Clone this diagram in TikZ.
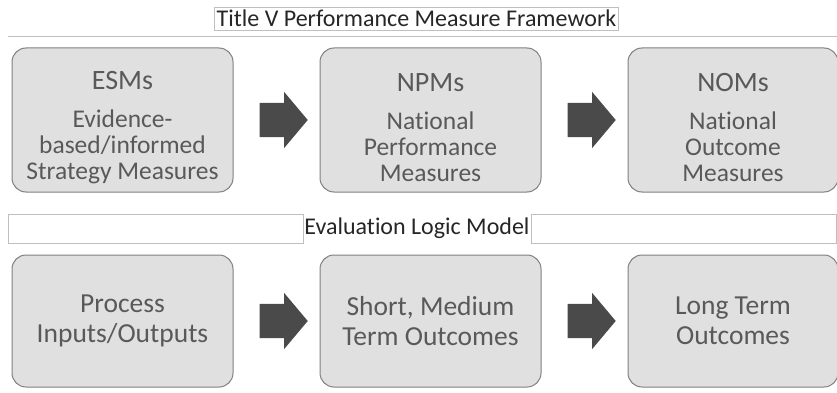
\documentclass[tikz,border=0pt]{standalone}
\usepackage{fontspec}
\setmainfont{Carlito}[Ligatures=NoCommon]
\usetikzlibrary{positioning,calc,shapes.arrows}
\definecolor{boxfill}{HTML}{E0E0E0}
\definecolor{boxline}{HTML}{808080}
\definecolor{boxtext}{HTML}{595959}
\definecolor{arrowfill}{HTML}{4A4A4A}
\definecolor{rulegray}{HTML}{BFBFBF}
\definecolor{headtext}{HTML}{262626}
\tikzset{
    stage/.style={rounded corners=14pt,draw=boxline,line width=1pt,fill=boxfill,text=boxtext,align=center,
        minimum width=221pt,minimum height=144pt,inner sep=0pt,font=\fontsize{25.5}{26}\selectfont},
    lowstage/.style={stage,minimum height=132pt,font=\fontsize{27.5}{30}\selectfont},
    blockarrow/.style={single arrow,fill=arrowfill,minimum height=48pt,inner xsep=0pt,inner ysep=17pt,
        single arrow head extend=11pt,single arrow tip angle=100},
    heading/.style={text=headtext,font=\fontsize{24}{28}\selectfont},
    frame/.style={draw=rulegray,line width=0.8pt},
}

\begin{document}
\begin{tikzpicture}[x=1pt,y=-1pt]
    \useasboundingbox (0,0) rectangle (837,393);
    % framework row
    \node[heading,frame,inner xsep=2pt,inner ysep=3pt] (title) at (416.5,18.5) {Title V Performance Measure Framework};
    \draw[frame] (8,36) -- (837,36);
    \node[stage] (esm) at (122.5,120) {\rule{0pt}{33pt}{\fontsize{28}{30}\selectfont ESMs}\\[12pt]Evidence-\\based/informed\\Strategy Measures};
    \node[stage,right=86pt of esm] (npm) {\rule{0pt}{33pt}{\fontsize{28}{30}\selectfont NPMs}\\[12pt]National\\Performance\\Measures};
    \node[stage,right=86pt of npm,minimum width=210pt] (nom) {\rule{0pt}{33pt}{\fontsize{28}{30}\selectfont NOMs}\\[12pt]National\\Outcome\\Measures};
    % logic model row
    \node[heading,inner sep=0pt] (eval) at (417,228.5) {Evaluation Logic Model};
    \draw[frame] (8,214) rectangle (303,243);
    \draw[frame] (531,214) rectangle (836.5,243);
    \node[lowstage] (proc) at (122.5,321) {Process\\Inputs/Outputs};
    \node[lowstage,right=86pt of proc] (smo) {Short, Medium\\Term Outcomes};
    \node[lowstage,right=86pt of smo,minimum width=210pt] (lto) {Long Term\\Outcomes};
    \foreach \a/\b/\n in {esm/npm/a1,npm/nom/a2,proc/smo/a3,smo/lto/a4}{
        \node[blockarrow] (\n) at ($(\a.east)!0.5!(\b.west)$) {};
    }
\end{tikzpicture}
\end{document}
